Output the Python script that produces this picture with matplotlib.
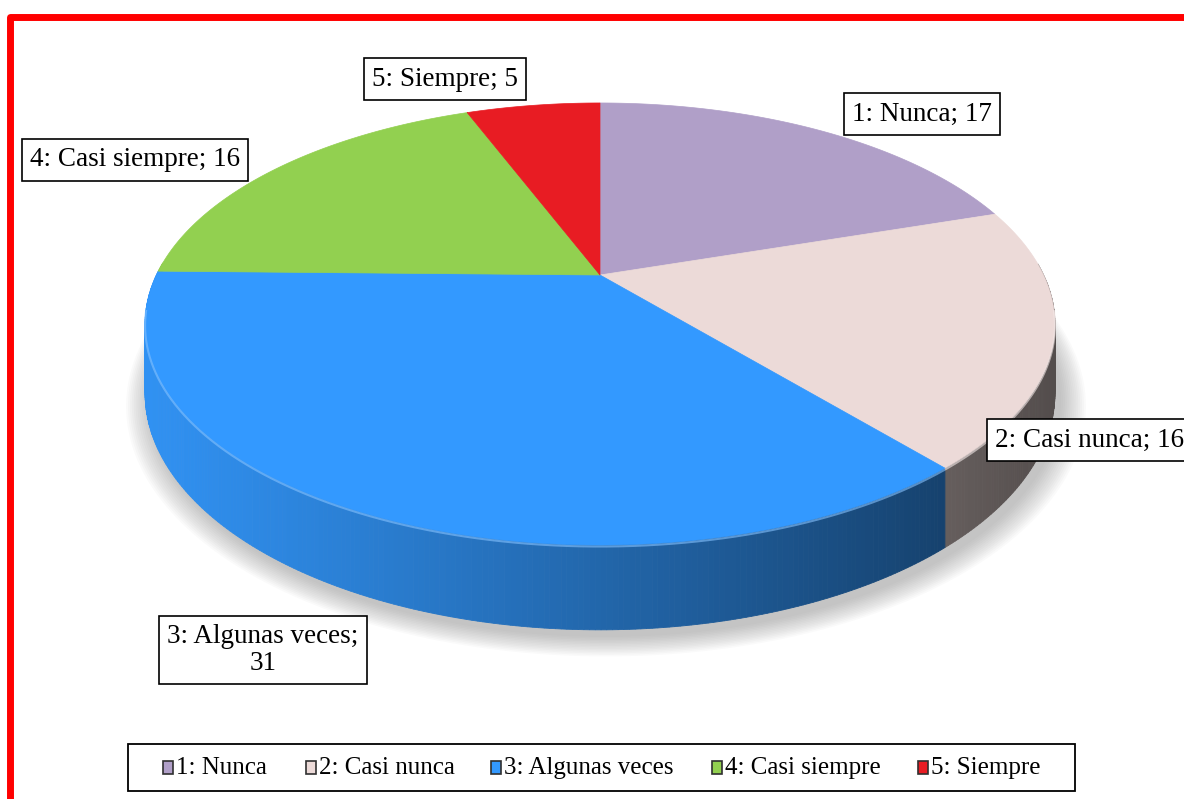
import numpy as np
import matplotlib.pyplot as plt
from matplotlib.patches import Polygon, Rectangle
import matplotlib.colors as mcolors

categories = ["1: Nunca", "2: Casi nunca", "3: Algunas veces", "4: Casi siempre", "5: Siempre"]
values = [17, 16, 31, 16, 5]
colors = ["#b09fc8", "#ecdad8", "#3399ff", "#92d050", "#e81c23"]
label_texts = ["1: Nunca; 17", "2: Casi nunca; 16", "3: Algunas veces;\n31",
               "4: Casi siempre; 16", "5: Siempre; 5"]

W, H = 1184, 799
FONT = "Liberation Serif"
fig = plt.figure(figsize=(W / 100, H / 100), dpi=100)
ax = fig.add_axes([0, 0, 1, 1])
ax.set_xlim(0, W)
ax.set_ylim(H, 0)
ax.axis("off")

# perspective disk model (pixel space)
cx, cy0 = 600.0, 275.0
A, a, c, D = 443.6, -149.2, 0.2217, 66.0


def proj(t, r=1.0, depth=0.0):
    u = r * np.cos(t)
    v = r * np.sin(t)
    den = 1 + c * v
    x = cx + A * u / den
    y = (a * v + cy0) / den + depth * D / den
    return x, y


total = float(sum(values))
bounds = []
t0 = np.pi / 2
for v in values:
    t1 = t0 - 2 * np.pi * v / total
    bounds.append((t0, t1))
    t0 = t1

# soft shadow
tt = np.linspace(0, 2 * np.pi, 300)
for k in range(14):
    s = 1.0 + 0.004 * k
    xs, ys = proj(tt, r=s, depth=1.0)
    ax.add_patch(Polygon(np.column_stack([xs + 6, ys + 7]), closed=True,
                         fc="#808080", ec="none", alpha=0.04, zorder=1))


def shade(col, x):
    rgb = np.array(mcolors.to_rgb(col))
    f = (x - 145) / (1057 - 145)
    fac = 0.95 - 0.6 * f ** 1.1
    return tuple(np.clip(rgb * fac, 0, 1))


# sides
for (ts, te), col in zip(bounds, colors):
    n = max(int(abs(ts - te) / 0.01), 2)
    ts_arr = np.linspace(ts, te, n + 1)
    for i in range(n):
        ta, tb = ts_arr[i], ts_arr[i + 1]
        if np.sin(ta) > 0.05 and np.sin(tb) > 0.05:
            continue
        xa, ya = proj(ta)
        xb, yb = proj(tb)
        xa2, ya2 = proj(ta, depth=1)
        xb2, yb2 = proj(tb, depth=1)
        colr = shade(col, 0.5 * (xa + xb))
        ax.add_patch(Polygon([(xa, ya), (xb, yb), (xb2, yb2), (xa2, ya2)], closed=True,
                             fc=colr, ec=colr, lw=0.6, zorder=2))

# tops
for (ts, te), col in zip(bounds, colors):
    t_arr = np.linspace(ts, te, 200)
    xs, ys = proj(t_arr)
    pts = np.column_stack([np.r_[cx, xs], np.r_[cy0, ys]])
    ax.add_patch(Polygon(pts, closed=True, fc=col, ec=col, lw=0.5, zorder=3))
    # rim highlight on the front edge
    front = np.sin(t_arr) < -0.15
    if front.any():
        light = tuple(np.clip(np.array(mcolors.to_rgb(col)) * 0.6 + 0.4, 0, 1))
        ax.plot(xs[front], ys[front] + 1.5, color=light, lw=1.5, alpha=0.6, zorder=4,
                solid_capstyle="butt")

# data labels
box = dict(boxstyle="square,pad=0.3", fc="white", ec="black", lw=1.2)
label_pos = [(922, 114, "center"), (995, 440, "left"), (263, 650, "center"),
             (135, 160, "center"), (445, 79, "center")]
for txt, (x, y, ha) in zip(label_texts, label_pos):
    ax.text(x, y, txt, fontsize=19.5, family=FONT, ha=ha, va="center",
            multialignment="center", bbox=box, zorder=6, linespacing=1.1)

# legend
ax.add_patch(Rectangle((128, 744), 947, 47, fc="white", ec="black", lw=1.3, zorder=5))
leg_x = [163, 306, 491, 712, 918]
for x, name, col in zip(leg_x, categories, colors):
    ax.add_patch(Rectangle((x, 761), 10, 13, fc=col, ec="#303030", lw=1.2, zorder=6))
    ax.text(x + 13, 768, name, fontsize=18, family=FONT, ha="left", va="center", zorder=6)

# red frame
ax.plot([9.5, 9.5, W + 20], [H + 20, 16.5, 16.5], color="#ff0000", lw=5.0,
        solid_joinstyle="round", zorder=7, clip_on=False)

fig.savefig("out.png", dpi=100)
